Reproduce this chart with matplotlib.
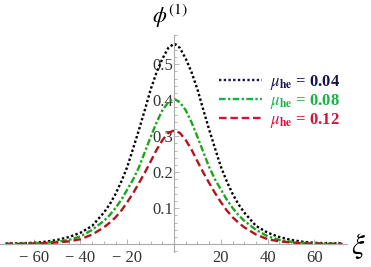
import matplotlib
matplotlib.use('Agg')
import matplotlib.pyplot as plt
from matplotlib.lines import Line2D
from matplotlib.ticker import MultipleLocator, FixedLocator

plt.rcParams['mathtext.fontset'] = 'stix'
plt.rcParams['font.family'] = ['Liberation Serif', 'DejaVu Serif']

# read values (curves are symmetric about xi = 0)
xi_half = [0, 2.5, 5, 7.5, 10, 12.5, 15, 17.5, 20, 22.5, 25, 27.5, 30, 35, 40, 45, 50, 55, 60, 65, 72]
phi_004_half = [0.557, 0.545, 0.515, 0.477, 0.430, 0.373, 0.318, 0.266, 0.215, 0.175, 0.140, 0.111,
                0.088, 0.051, 0.032, 0.020, 0.012, 0.007, 0.004, 0.003, 0.002]
phi_008_half = [0.404, 0.394, 0.372, 0.338, 0.298, 0.256, 0.214, 0.180, 0.152, 0.124, 0.101, 0.081,
                0.065, 0.040, 0.022, 0.012, 0.007, 0.004, 0.003, 0.002, 0.001]
phi_012_half = [0.316, 0.309, 0.289, 0.262, 0.230, 0.199, 0.170, 0.142, 0.117, 0.094, 0.075, 0.060,
                0.047, 0.027, 0.014, 0.008, 0.005, 0.003, 0.002, 0.001, 0.001]

def mirror_x(h):
    return [-v for v in reversed(h[1:])] + list(h)

def mirror_y(h):
    return list(reversed(h[1:])) + list(h)

xi = mirror_x(xi_half)
series = [
    (mirror_y(phi_004_half), 'black', '#15154f', (0, (1.0, 1.0)), '0.04'),
    (mirror_y(phi_008_half), '#1ea51e', '#14b445', (0, (2.8, 1.0, 1.0, 1.0)), '0.08'),
    (mirror_y(phi_012_half), '#b3141c', '#d0143a', (0, (3.2, 1.6)), '0.12'),
]
x_ticks = [-60, -40, -20, 20, 40, 60]
y_ticks = [0.1, 0.2, 0.3, 0.4, 0.5]

W, H = 371, 267
fig = plt.figure(figsize=(W / 100, H / 100), dpi=100)
ax = fig.add_axes([0, (H - 252) / H, 347 / W, (252 - 35) / H])
ax.set_xlim(-74.4, 73.9)
ax.set_ylim(-0.0215, 0.581)

handles = []
for ys, col, lcol, ls, lab in series:
    ax.plot(xi, ys, color=col, lw=1.7, linestyle=ls, solid_capstyle='butt')
    handles.append(Line2D([], [], color=lcol, lw=1.7, linestyle=ls,
                          label=r'$\mu_{\mathbf{he}}$' + ' = ' + lab))

for s in ['top', 'right']:
    ax.spines[s].set_visible(False)
ax.spines['left'].set_position(('data', 0))
ax.spines['bottom'].set_position(('data', 0))
for s in ['left', 'bottom']:
    ax.spines[s].set_color('#aaaaaa')
    ax.spines[s].set_linewidth(0.8)

ax.xaxis.set_major_locator(FixedLocator(x_ticks))
ax.xaxis.set_minor_locator(MultipleLocator(5))
ax.yaxis.set_major_locator(FixedLocator(y_ticks))
ax.yaxis.set_minor_locator(MultipleLocator(0.02))
ax.set_xticklabels(['\u2212 ' + str(-t) if t < 0 else str(t) for t in x_ticks])
ax.set_yticklabels([f'{t:.1f}' for t in y_ticks])
ax.tick_params(which='both', direction='in', color='#aaaaaa', width=0.6, labelcolor='#333333',
               labelsize=12)
ax.tick_params(which='major', length=3.5)
ax.tick_params(which='minor', length=2)
ax.tick_params(axis='x', which='major', pad=4)
ax.tick_params(axis='y', which='major', pad=0.5)
ax.patch.set_alpha(0)

fig.text(170 / W, 1 - 16 / H, r'$\phi^{(1)}$', fontsize=16, ha='center', va='center')
fig.text(358 / W, 1 - 246 / H, r'$\xi$', fontsize=21, ha='center', va='center')

leg = ax.legend(handles=handles, loc='upper left', bbox_to_anchor=(219 / 347, 1 - (73 - 35) / 217),
                frameon=False, handlelength=2.6, handletextpad=0.45, labelspacing=0.0,
                borderpad=0, borderaxespad=0, labelcolor='linecolor',
                prop={'weight': 'bold', 'size': 12, 'family': 'Liberation Serif'})

fig.savefig('out.png', dpi=100)
